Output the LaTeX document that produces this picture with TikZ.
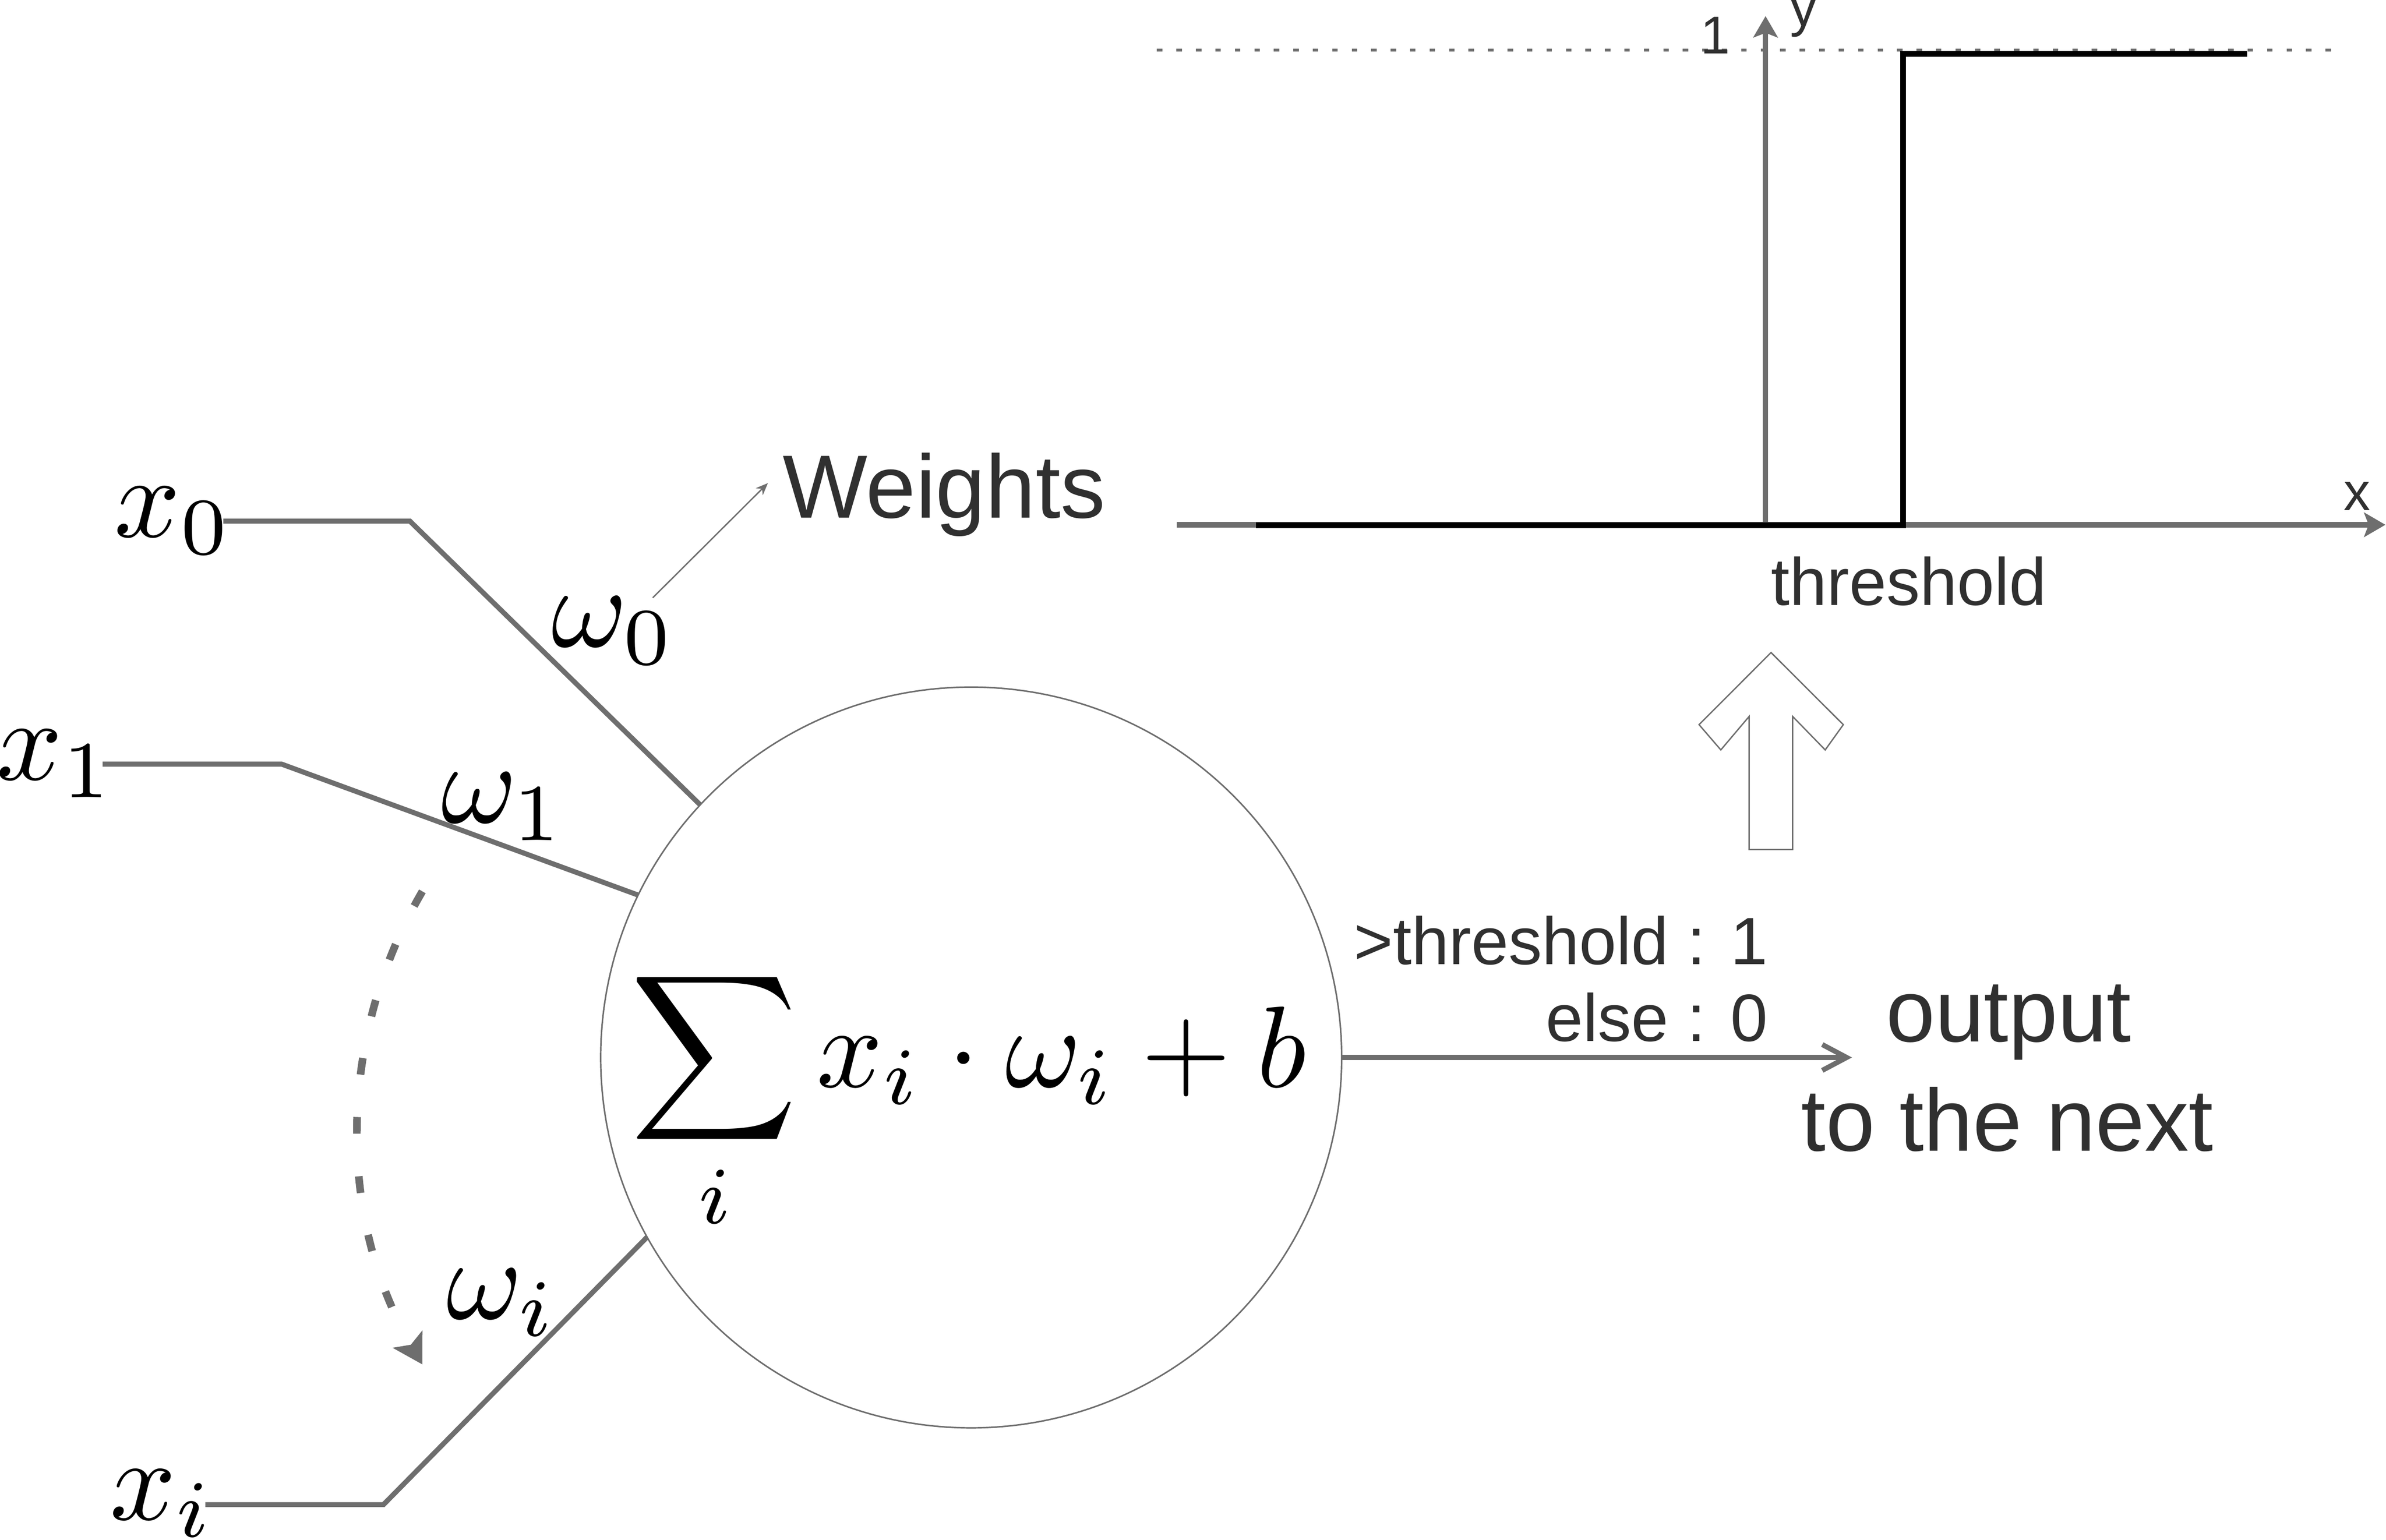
\documentclass[tikz,border=0pt]{standalone}
\usepackage[no-math]{fontspec}
\usepackage{graphicx}
\newfontfamily\arialf{Liberation Sans}
\usetikzlibrary{arrows.meta}
\definecolor{lgray}{HTML}{6E6E6E}
\definecolor{tgray}{HTML}{303030}
\newcommand{\mbig}[1]{\scalebox{7.6}{$#1$}}
\begin{document}
\begin{tikzpicture}[x=1pt,y=-1pt,
  conn/.style={draw=lgray, line width=3.3pt},
  mlabel/.style={inner sep=0pt, outer sep=0pt},
  bigtxt/.style={inner sep=0pt, outer sep=0pt, text=tgray, font=\arialf\fontsize{58}{70}\selectfont},
  weighttxt/.style={inner sep=0pt, outer sep=0pt, text=tgray, font=\arialf\fontsize{59}{70}\selectfont},
  smalltxt/.style={inner sep=0pt, outer sep=0pt, text=tgray, font=\arialf\fontsize{44}{52}\selectfont},
  axistxt/.style={inner sep=0pt, outer sep=0pt, text=tgray, font=\arialf\fontsize{35}{42}\selectfont},
  axisline/.style={draw=lgray, line width=3.5pt, -{Stealth[length=14pt,width=16pt,inset=3pt]}},
]
\useasboundingbox (0,0) rectangle (1568.2,1012.4);

% ---------- neuron ----------
\node[circle, draw=lgray, line width=1pt, minimum size=487pt, inner sep=0pt, outer sep=0pt] (neuron) at (638.3,695.2) {};
\node[mlabel, anchor=base west] (sumf) at (414.5,714.6) {\mbig{\displaystyle\sum_i x_i\cdot\omega_i+b}};

% ---------- inputs ----------
\node[mlabel, anchor=base west] (x0) at (75.2,353.0) {\mbig{x_0}};
\node[mlabel, anchor=base west] (x1) at (-2.2,512.7) {\mbig{x_1}};
\node[mlabel, anchor=base west] (xi) at (72.2,999.0) {\mbig{x_i}};

\node[mlabel, anchor=base west] (w0) at (362.5,425.2) {\mbig{\omega_0}};
\node[mlabel, anchor=base west] (w1) at (290.0,541.0) {\mbig{\omega_1}};
\node[mlabel, anchor=base west] (wi) at (293.5,867.0) {\mbig{\omega_i}};

\coordinate (s0) at (146.8,342.6);
\coordinate (k0) at (269.4,342.6);
\coordinate (s1) at (67.5,502.3);
\coordinate (k1) at (185.0,502.3);
\coordinate (si) at (135.0,989.2);
\coordinate (ki) at (252.0,989.2);
\draw[conn] (s0) -- (k0) -- (neuron.137.65);
\draw[conn] (s1) -- (k1) -- (neuron.154.8);
\draw[conn] (si) -- (ki) -- (neuron.209.8);

% dashed curved arrow
\coordinate (dA) at (277.6,586.0);
\coordinate (dB) at (277.6,897.0);
\draw[draw=lgray, line width=5pt, dash pattern=on 11pt off 28pt,
      -{Stealth[length=19pt,width=22pt,inset=4pt]}]
  (dA) .. controls (221.4,682.1) and (221.4,800.9) .. (dB);

% weights
\node[weighttxt, anchor=base west] (weights) at (514.5,340.3) {Weights};
\coordinate (wa) at (429.0,393.0);
\coordinate (wb) at (504.7,317.6);
\draw[draw=lgray, line width=0.9pt, -{Stealth[length=8pt,width=6.5pt]}] (wa) -- (wb);

% ---------- output ----------
\coordinate (outtip) at (1217.2,695.2);
\draw[conn, -{Straight Barb[length=16pt,width=17pt]}] (neuron.east) -- (outtip);
\node[smalltxt, anchor=base east] (cond1) at (1162.0,634.0) {>threshold : 1};
\node[smalltxt, anchor=base east] (cond0) at (1162.0,684.5) {else : 0};
\node[bigtxt, anchor=base] (out1) at (1320.2,684.9) {output};
\node[bigtxt, anchor=base] (out2) at (1319.3,756.8) {to the next};

% hollow arrow
\draw[draw=lgray, line width=0.9pt, fill=white]
  (1164.0,429.0) -- (1211.5,476.4) -- (1199.6,493.0) -- (1178.2,471.0)
  -- (1178.2,558.5) -- (1149.6,558.5) -- (1149.6,471.0) -- (1131.0,493.0)
  -- (1116.7,476.4) -- cycle;

% ---------- step function plot ----------
\draw[draw=lgray, line width=1.8pt, dash pattern=on 3.6pt off 9.2pt] (760.4,33.0) -- (1535.0,33.0);
\draw[axisline] (773.5,345.0) -- (1567.8,345.0);
\draw[axisline] (1160.4,345.0) -- (1160.4,10.6);
\draw[black, line width=3.9pt] (825.6,345.3) -- (1250.8,345.3) -- (1250.8,35.4) -- (1476.9,35.4);
\node[axistxt, anchor=base east] (one) at (1137.0,35.3) {1};
\node[axistxt, anchor=base west] (ylab) at (1176.5,17.2) {y};
\node[axistxt, anchor=base west] (xlab) at (1540.5,335.3) {x};
\node[smalltxt, anchor=base west] (thr) at (1164.0,397.8) {threshold};
\end{tikzpicture}
\end{document}
